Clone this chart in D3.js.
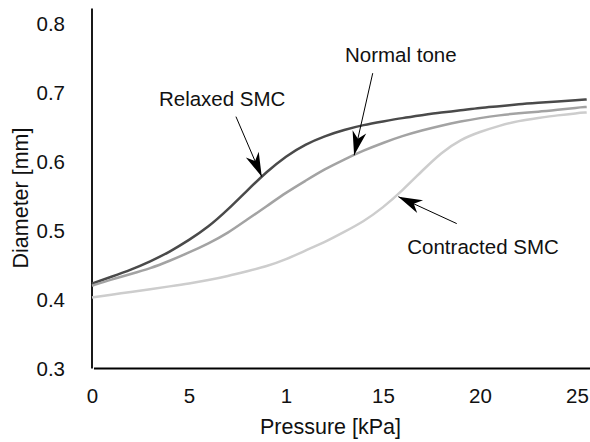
<html>
  <head>
    <meta charset="utf-8">
    <script src="https://d3js.org/d3.v7.min.js"></script>
    <title>Diameter vs Pressure</title>
    <style>
      body {
        margin: 0px;
        background: #fff;
      }
      .domain {
        display: none;
      }
      .tick line {
        display: none;
      }
      .tick text {
        fill: #111;
        font-size: 20.5px;
        font-family: Helvetica, Arial, 'Liberation Sans', sans-serif;
      }
      .axis-label {
        fill: #111;
        font-size: 21.5px;
        font-family: Helvetica, Arial, 'Liberation Sans', sans-serif;
      }
      .note {
        fill: #111;
        font-size: 20.5px;
        font-family: Helvetica, Arial, 'Liberation Sans', sans-serif;
      }
    </style>
  </head>
  <body>
    <svg width="590" height="442"></svg>
    <script>
      // pressure in kPa
      const pressure = [0, 1, 2, 3, 4, 5, 6, 7, 8, 9, 10, 11, 12, 13, 14, 15, 16, 17, 18, 19, 20, 21, 22, 23, 24, 25, 25.5];
      // diameter in mm
      const relaxed = [0.423, 0.433, 0.443, 0.455, 0.469, 0.486, 0.505, 0.530, 0.558, 0.585, 0.608, 0.625, 0.637, 0.646, 0.653, 0.658, 0.663, 0.667, 0.671, 0.674, 0.678, 0.680, 0.683, 0.685, 0.687, 0.689, 0.690];
      const normal = [0.420, 0.429, 0.437, 0.445, 0.456, 0.468, 0.481, 0.496, 0.516, 0.535, 0.555, 0.572, 0.589, 0.603, 0.616, 0.627, 0.637, 0.645, 0.652, 0.658, 0.663, 0.667, 0.670, 0.672, 0.675, 0.678, 0.679];
      const contracted = [0.403, 0.407, 0.411, 0.415, 0.419, 0.423, 0.428, 0.434, 0.441, 0.448, 0.458, 0.471, 0.483, 0.498, 0.513, 0.533, 0.558, 0.586, 0.613, 0.632, 0.643, 0.652, 0.659, 0.663, 0.667, 0.670, 0.671];

      const xTicks = [0, 5, 10, 15, 20, 25];
      const xTickLabels = ['0', '5', '1', '15', '20', '25'];
      const yTicks = [0.3, 0.4, 0.5, 0.6, 0.7, 0.8];

      // label text, label anchor, arrow tail, arrow tip (data units)
      const notes = [
        { text: 'Relaxed SMC', tx: 3.45, ty: 0.681, x1: 7.42, y1: 0.665, x2: 8.75, y2: 0.578 },
        { text: 'Normal tone', tx: 13.04, ty: 0.744, x1: 14.47, y1: 0.728, x2: 13.51, y2: 0.609 },
        { text: 'Contracted SMC', tx: 16.25, ty: 0.466, x1: 18.8, y1: 0.510, x2: 15.79, y2: 0.549 }
      ];

      const series = [
        { name: 'relaxed', values: relaxed, color: '#4a4a4a' },
        { name: 'normal', values: normal, color: '#a3a3a3' },
        { name: 'contracted', values: contracted, color: '#cdcdcd' }
      ];

      const svg = d3.select('svg');

      const xScale = d3.scaleLinear().domain([0, 25.67]).range([92, 590]);
      const yScale = d3.scaleLinear().domain([0.3, 0.8217]).range([368.5, 8.5]);

      svg.append('defs').append('marker')
          .attr('id', 'head')
          .attr('viewBox', '-25 -8 27 16')
          .attr('refX', 0)
          .attr('refY', 0)
          .attr('markerUnits', 'userSpaceOnUse')
          .attr('markerWidth', 27)
          .attr('markerHeight', 16)
          .attr('orient', 'auto')
        .append('path')
          .attr('d', 'M0,0 L-24,-7 L-17,0 L-24,7 Z')
          .attr('fill', '#000');

      const xAxisG = svg.append('g')
          .attr('transform', `translate(0,${yScale(0.3)})`)
          .call(d3.axisBottom(xScale)
            .tickValues(xTicks)
            .tickSize(0)
            .tickPadding(20)
            .tickFormat((d, i) => xTickLabels[i]));

      const yAxisG = svg.append('g')
          .attr('transform', `translate(${xScale(0)},0)`)
          .call(d3.axisLeft(yScale)
            .tickValues(yTicks)
            .tickSize(0)
            .tickPadding(27)
            .tickFormat(d3.format('.1f')));

      // axis lines
      svg.append('line')
          .attr('x1', xScale(0)).attr('x2', xScale(0))
          .attr('y1', yScale(0.8217)).attr('y2', yScale(0.3))
          .attr('stroke', '#000').attr('stroke-width', 1.8);
      svg.append('line')
          .attr('x1', xScale(0) + 2).attr('x2', xScale(25.67))
          .attr('y1', yScale(0.3)).attr('y2', yScale(0.3))
          .attr('stroke', '#000').attr('stroke-width', 1.8);

      const line = d3.line()
        .x((d, i) => xScale(pressure[i]))
        .y(d => yScale(d))
        .curve(d3.curveBasis);

      svg.selectAll('.curve')
        .data(series)
        .enter().append('path')
          .attr('class', 'curve')
          .attr('fill', 'none')
          .attr('stroke', d => d.color)
          .attr('stroke-width', 2.5)
          .attr('d', d => line(d.values));

      // annotations
      svg.selectAll('.arrow')
        .data(notes)
        .enter().append('line')
          .attr('class', 'arrow')
          .attr('x1', d => xScale(d.x1))
          .attr('y1', d => yScale(d.y1))
          .attr('x2', d => xScale(d.x2))
          .attr('y2', d => yScale(d.y2))
          .attr('stroke', '#000')
          .attr('stroke-width', 1)
          .attr('marker-end', 'url(#head)');

      svg.selectAll('.note')
        .data(notes)
        .enter().append('text')
          .attr('class', 'note')
          .attr('x', d => xScale(d.tx))
          .attr('y', d => yScale(d.ty))
          .text(d => d.text);

      svg.append('text')
          .attr('class', 'axis-label')
          .attr('x', 330.5)
          .attr('y', 434)
          .style('text-anchor', 'middle')
          .text('Pressure [kPa]');

      svg.append('text')
          .attr('class', 'axis-label')
          .attr('transform', 'translate(28,198) rotate(-90)')
          .style('text-anchor', 'middle')
          .text('Diameter [mm]');
    </script>
  </body>
</html>
